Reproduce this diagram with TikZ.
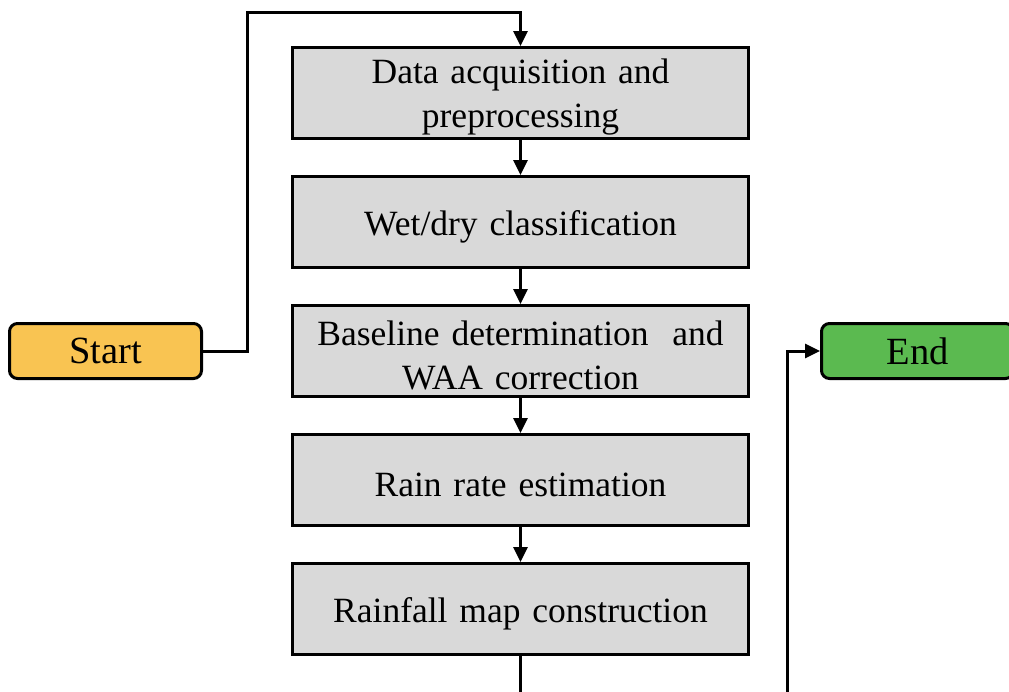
\documentclass[tikz,border=0pt]{standalone}
\usepackage{fontspec}
\setmainfont{Liberation Serif}
\usetikzlibrary{arrows.meta}

\definecolor{stepgray}{RGB}{217,217,217}
\definecolor{startfill}{RGB}{249,196,82}
\definecolor{endfill}{RGB}{91,186,80}

\tikzset{
  stepbox/.style={draw=black, line width=3pt, fill=stepgray,
    minimum width=456pt, minimum height=91pt, inner sep=0pt},
  steptext/.style={inner sep=0pt, align=center, text width=440pt,
    font=\fontsize{35.5}{44}\selectfont},
  termbox/.style={draw=black, line width=3pt, rounded corners=8pt,
    minimum width=192pt, minimum height=55pt, inner sep=0pt,
    font=\fontsize{38.5}{44}\selectfont},
  conn/.style={draw=black, line width=3pt,
    -{Triangle[length=15pt,width=14pt]}},
  plainconn/.style={draw=black, line width=3pt}
}

\begin{document}
\begin{tikzpicture}[x=1pt,y=-1pt]
  \useasboundingbox (0,0) rectangle (1009,691);
  \begin{scope}
    \clip (0,0) rectangle (1009,691);

    % processing steps
    \node[stepbox] (acq)   at (520.5,93)  {};
    \node[stepbox] (wet)   at (520.5,222) {};
    \node[stepbox] (base)  at (520.5,351) {};
    \node[stepbox] (rain)  at (520.5,480) {};
    \node[stepbox] (map)   at (520.5,609) {};

    % step captions, set slightly below the box centres
    \node[steptext] (acq-t)  at ([yshift=-4pt]acq.center)  {Data acquisition and\\preprocessing};
    \node[steptext] (wet-t)  at ([yshift=-5pt]wet.center)  {Wet/dry classification};
    \node[steptext] (base-t) at ([yshift=-4pt]base.center) {Baseline determination~ and\\WAA correction};
    \node[steptext] (rain-t) at ([yshift=-5pt]rain.center) {Rain rate estimation};
    \node[steptext] (map-t)  at ([yshift=-5pt]map.center)  {Rainfall map construction};

    % terminals
    \node[termbox, fill=startfill] (start) at (105.5,351) {Start};
    \node[termbox, fill=endfill]   (end)   at (917.5,351) {End};

    % routing points
    \coordinate (topturn) at (247,12);
    \coordinate (endfoot) at (787,695);
    \coordinate (mapfoot) at (520.5,695);

    % connectors
    \draw[conn] (start.east) -| (topturn) -| (acq.north);
    \draw[conn] (acq.south) -- (wet.north);
    \draw[conn] (wet.south) -- (base.north);
    \draw[conn] (base.south) -- (rain.north);
    \draw[conn] (rain.south) -- (map.north);
    \draw[plainconn] (map.south) -- (mapfoot);
    \draw[conn] (endfoot) |- (end.west);
  \end{scope}
\end{tikzpicture}
\end{document}
